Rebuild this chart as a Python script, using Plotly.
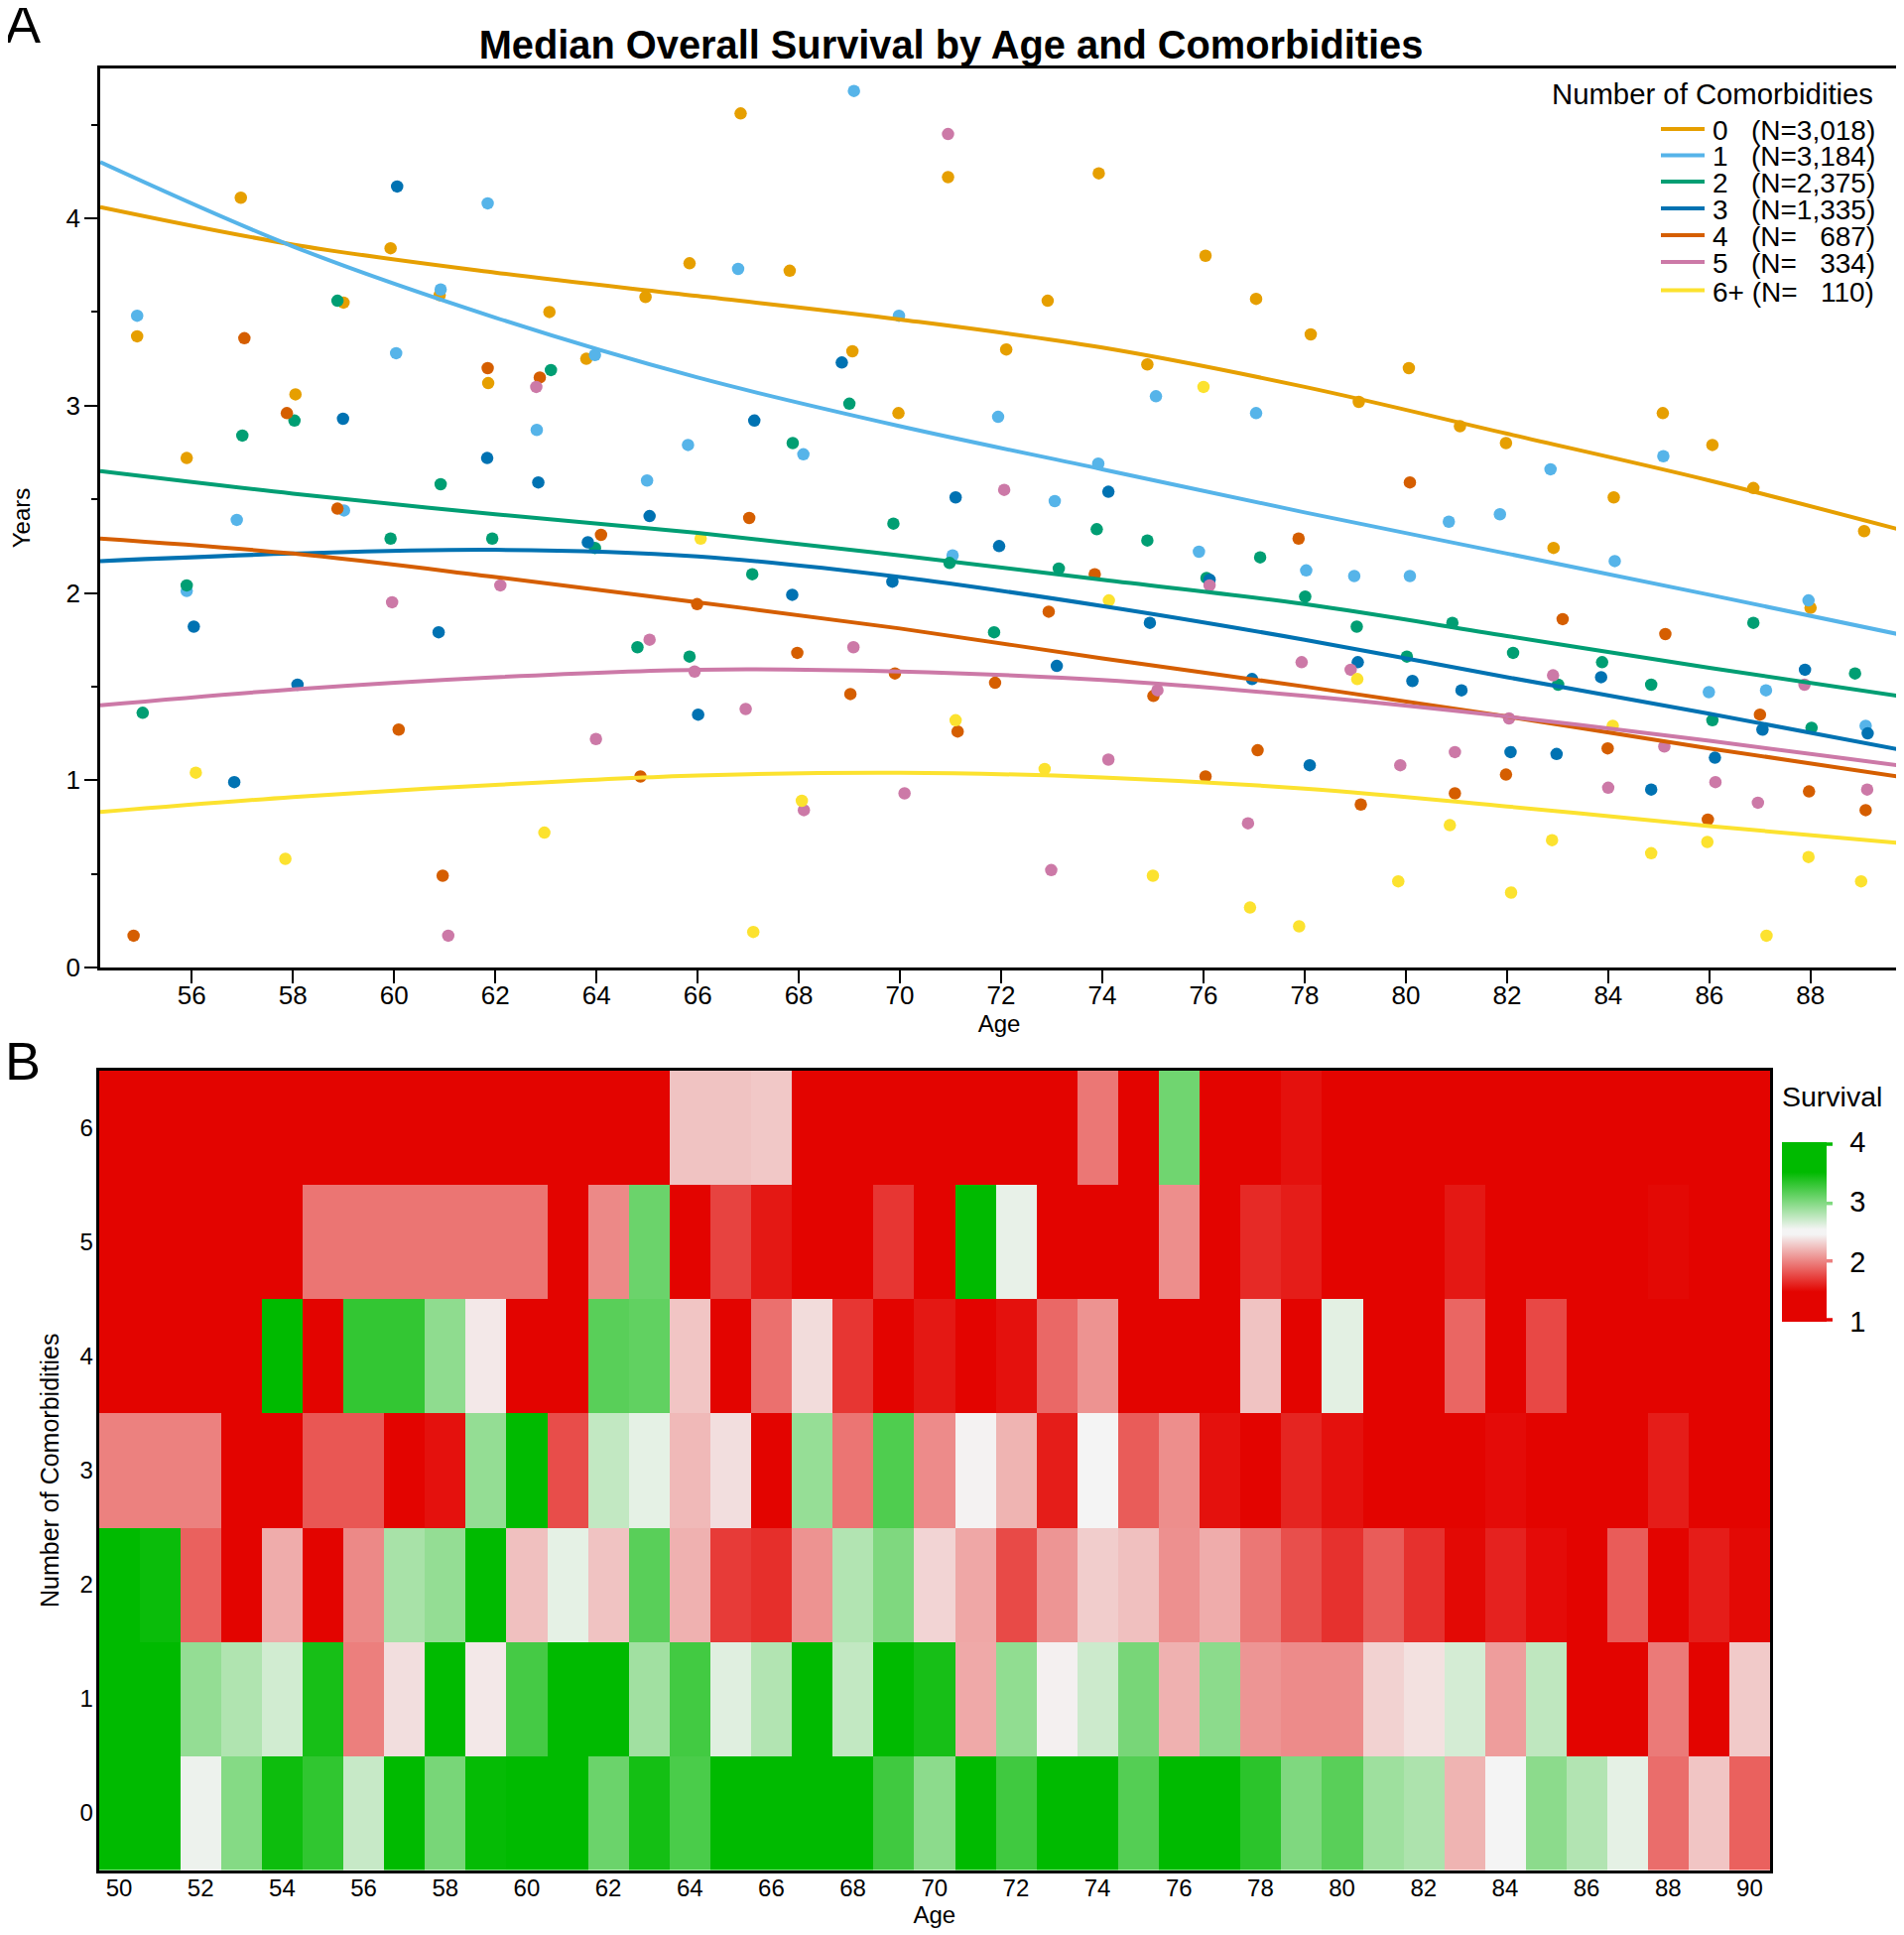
import plotly.graph_objects as go

W, H = 1919, 1950
BODY_MARGIN = 8

# ---------- Panel A data ----------
series_colors = ["#E69F00", "#56B4E9", "#009E73", "#0072B2", "#D55E00", "#CC79A7", "#FCE22F"]
legend_labels = ["0   (N=3,018)", "1   (N=3,184)", "2   (N=2,375)", "3   (N=1,335)",
                 "4   (N=   687)", "5   (N=   334)", "6+ (N=   110)"]

age0 = [54.92,55.9,56.97,58.05,59.0,59.93,60.9,61.86,63.07,63.8,64.97,65.84,66.85,67.82,69.06,69.97,70.95,72.1,72.92,73.93,74.89,76.04,77.04,78.12,79.07,80.06,81.07,81.98,82.92,84.11,85.08,86.06,86.87,88.0,89.06]
val0 = [3.37,2.72,4.11,3.06,3.55,3.84,3.59,3.12,3.50,3.25,3.58,3.76,4.56,3.72,3.29,2.96,4.22,3.30,3.56,4.24,3.22,3.80,3.57,3.38,3.02,3.20,2.89,2.80,2.24,2.51,2.96,2.79,2.56,1.92,2.33]
age1 = [54.92,55.9,56.89,59.01,60.04,60.92,61.85,62.82,63.97,65.0,65.81,66.8,68.09,69.09,69.98,71.04,71.94,73.06,73.92,75.06,75.91,77.04,78.03,78.98,80.08,80.85,81.86,82.86,84.13,85.09,85.99,87.12,87.96,89.09]
val1 = [3.48,2.01,2.39,2.44,3.28,3.62,4.08,2.87,3.27,2.60,2.79,3.73,2.74,4.68,3.48,2.20,2.94,2.49,2.69,3.05,2.22,2.96,2.12,2.09,2.09,2.38,2.42,2.66,2.17,2.73,1.47,1.48,1.96,1.29]
age2 = [55.03,55.9,57.0,58.03,58.88,59.93,60.92,61.94,63.1,63.97,64.81,65.84,67.08,67.88,69.0,69.87,70.98,71.86,73.14,73.89,74.89,76.06,77.12,78.01,79.03,80.02,80.92,82.12,83.01,83.88,84.85,86.06,86.87,88.02,88.88]
val2 = [1.36,2.04,2.84,2.92,3.56,2.29,2.58,2.29,3.19,2.24,1.71,1.66,2.10,2.80,3.01,2.37,2.16,1.79,2.13,2.34,2.28,2.08,2.19,1.98,1.82,1.66,1.84,1.68,1.51,1.63,1.51,1.32,1.84,1.28,1.57]
age3 = [56.04,56.84,58.09,58.99,60.06,60.88,61.84,62.85,63.83,65.05,66.01,67.12,67.87,68.85,69.85,71.1,71.96,73.1,74.12,74.94,76.12,76.96,78.1,79.05,80.13,81.1,82.07,82.98,83.86,84.85,86.11,87.05,87.89,89.13]
val3 = [1.82,0.99,1.51,2.93,4.17,1.79,2.72,2.59,2.27,2.41,1.35,2.92,1.99,3.23,2.06,2.51,2.25,1.61,2.54,1.84,2.07,1.54,1.08,1.63,1.53,1.48,1.15,1.14,1.55,0.95,1.12,1.27,1.59,1.25]
age4 = [54.85,57.04,57.88,58.88,60.09,60.96,61.85,62.88,64.09,64.87,65.99,67.02,67.97,69.02,69.9,71.14,71.88,72.94,73.85,75.01,76.04,77.07,77.88,79.11,80.08,80.97,81.98,83.1,83.99,85.13,85.97,87.0,87.97,89.09]
val4 = [0.17,3.36,2.96,2.45,1.27,0.49,3.20,3.15,2.31,1.02,1.94,2.40,1.68,1.46,1.57,1.26,1.52,1.90,2.10,1.45,1.02,1.16,2.29,0.87,2.59,0.93,1.03,1.86,1.17,1.78,0.79,1.35,0.94,0.84]
age5 = [59.96,61.07,62.1,62.81,63.99,65.05,65.94,66.95,68.1,69.08,70.09,70.95,72.06,72.99,74.12,75.09,76.12,76.88,77.94,78.91,79.89,80.97,82.04,82.91,84.0,85.11,86.12,86.96,87.88,89.12]
val5 = [1.95,0.17,2.04,3.10,1.22,1.75,1.58,1.38,0.84,1.71,0.93,4.45,2.55,0.52,1.11,1.48,2.04,0.77,1.63,1.59,1.08,1.15,1.33,1.56,0.96,1.18,0.99,0.88,1.51,0.95]
age6 = [56.08,57.85,62.97,66.06,67.1,68.06,71.1,72.86,74.13,75.0,76.0,76.92,77.89,79.04,79.85,80.87,82.08,82.89,84.09,84.85,85.96,87.13,87.96,89.0]
val6 = [1.04,0.58,0.72,2.29,0.19,0.89,1.32,1.06,1.96,0.49,3.10,0.32,0.22,1.54,0.46,0.76,0.40,0.68,1.29,0.61,0.67,0.17,0.59,0.46]

curve_age = [54.19,58,62,66,70,74,78,82,86,89.73]
curve0 = [4.06,3.86,3.71,3.585,3.46,3.31,3.10,2.85,2.60,2.34]
curve1 = [4.30,3.85,3.47,3.15,2.89,2.66,2.43,2.21,1.99,1.78]
curve2 = [2.65,2.53,2.42,2.32,2.20,2.07,1.94,1.77,1.60,1.45]
curve3 = [2.17,2.21,2.23,2.195,2.085,1.93,1.75,1.55,1.355,1.165]
curve4 = [2.29,2.21,2.085,1.95,1.81,1.65,1.50,1.34,1.17,1.02]
curve5 = [1.40,1.485,1.55,1.59,1.58,1.535,1.45,1.34,1.21,1.08]
curve6 = [0.83,0.91,0.975,1.025,1.04,1.015,0.955,0.86,0.755,0.665]

point_ages = [age0, age1, age2, age3, age4, age5, age6]
point_vals = [val0, val1, val2, val3, val4, val5, val6]
curves = [curve0, curve1, curve2, curve3, curve4, curve5, curve6]

# ---------- Panel B data ----------
heat_ages = list(range(50, 91))
heat_rows = [0, 1, 2, 3, 4, 5, 6]
surv0 = [3.7,3.7,2.57,2.98,3.45,3.31,2.72,3.7,3.03,3.48,3.7,3.7,3.08,3.42,3.21,3.7,3.7,3.7,3.7,3.25,2.95,3.7,3.25,3.7,3.7,3.17,3.7,3.7,3.33,3.0,3.15,2.88,2.82,2.2,2.47,2.95,2.8,2.6,1.92,2.27,1.87]
surv1 = [3.7,3.7,2.92,2.81,2.68,3.41,1.99,2.37,3.7,2.41,3.23,3.7,3.7,2.87,3.24,2.62,2.8,3.7,2.74,3.7,3.41,2.16,2.93,2.44,2.7,3.03,2.19,2.95,2.08,2.04,2.04,2.32,2.38,2.67,2.11,2.75,1.2,1.2,1.97,1.2,2.29]
surv2 = [3.7,3.46,1.87,1.2,2.17,1.2,2.03,2.84,2.92,3.7,2.25,2.6,2.26,3.15,2.19,1.72,1.67,2.07,2.8,3.0,2.33,2.15,1.78,2.08,2.3,2.25,2.06,2.17,1.96,1.8,1.68,1.85,1.68,1.52,1.62,1.53,1.2,1.85,1.2,1.6,1.52]
surv3 = [2.0,2.0,2.0,1.2,1.2,1.83,1.83,1.2,1.55,2.92,3.7,1.79,2.74,2.6,2.22,2.37,1.2,2.91,1.95,3.19,2.04,2.45,2.2,1.6,2.52,1.85,2.05,1.55,1.2,1.63,1.55,1.2,1.2,1.2,1.53,1.2,1.2,1.2,1.6,1.2,1.2]
surv4 = [1.2,1.2,1.2,1.2,3.7,1.2,3.3,3.3,2.94,2.41,1.2,1.2,3.15,3.12,2.27,1.2,1.93,2.36,1.7,1.2,1.58,1.2,1.55,1.9,2.07,1.2,1.2,1.2,2.26,1.2,2.61,1.2,1.2,1.89,1.2,1.77,1.2,1.2,1.2,1.2,1.2]
surv5 = [1.2,1.2,1.2,1.2,1.2,1.95,1.95,1.95,1.95,1.95,1.95,1.2,2.03,3.08,1.2,1.75,1.58,1.2,1.2,1.7,1.2,3.7,2.59,1.2,1.2,1.2,2.05,1.2,1.65,1.6,1.2,1.2,1.2,1.58,1.2,1.2,1.2,1.2,1.52,1.2,1.2]
surv6 = [1.2,1.2,1.2,1.2,1.2,1.2,1.2,1.2,1.2,1.2,1.2,1.2,1.2,1.2,2.26,2.26,2.28,1.2,1.2,1.2,1.2,1.2,1.2,1.2,1.96,1.2,3.06,1.2,1.2,1.55,1.2,1.2,1.2,1.2,1.2,1.2,1.2,1.2,1.2,1.2,1.2]
survival = [surv0, surv1, surv2, surv3, surv4, surv5, surv6]

FONT = "Liberation Sans"
NB = "\u00a0"
FW, FH = W - BODY_MARGIN, H - BODY_MARGIN

def px(x):
    return (x - BODY_MARGIN) / FW

def py(y):
    return 1 - (y - BODY_MARGIN) / FH

fig = go.Figure()

for i, color in enumerate(series_colors):
    fig.add_trace(go.Scatter(x=point_ages[i], y=point_vals[i], mode="markers",
                             marker=dict(color=color, size=12.5, line=dict(width=0)),
                             showlegend=False, xaxis="x", yaxis="y"))
for i, color in enumerate(series_colors):
    fig.add_trace(go.Scatter(x=curve_age, y=curves[i], mode="lines",
                             line=dict(color=color, width=4, shape="spline", smoothing=1),
                             name=legend_labels[i], showlegend=False, xaxis="x", yaxis="y"))

fig.add_trace(go.Heatmap(
    x=heat_ages, y=heat_rows, z=survival, zmin=1, zmax=4, xaxis="x2", yaxis="y2",
    colorscale=[[0, "#E30400"], [0.1667, "#E30400"], [0.4857, "#F4F4F4"], [0.5143, "#F4F4F4"],
                [0.8333, "#00BA00"], [1, "#00BA00"]],
    colorbar=dict(
        x=px(1796), xanchor="left", y=py(1150.7), yanchor="top",
        lenmode="pixels", len=181, thicknessmode="pixels", thickness=45,
        outlinewidth=0, tickvals=[1, 2, 3, 4], ticks="outside", ticklen=18,
        tickcolor="rgba(0,0,0,0)", tickfont=dict(family=FONT, size=29, color="black"),
        xpad=0, ypad=0,
    ),
))

axis_common = dict(showgrid=False, zeroline=False, showline=True, linecolor="black",
                   linewidth=2.5, mirror=True, tickcolor="black")

annotations = [
    dict(text="A", x=px(3), y=py(24), xanchor="left", yanchor="middle", font=dict(size=54)),
    dict(text="B", x=px(3), y=py(1069), xanchor="left", yanchor="middle", font=dict(size=54)),
    dict(text="Survival", x=px(1794), y=py(1105), xanchor="left", yanchor="middle", font=dict(size=28.5)),
    dict(text="Number of Comorbidities", x=px(1890), y=py(95), xanchor="right", yanchor="middle", font=dict(size=29.3)),
]
shapes = []
legend_y = [130, 156.5, 183, 210, 237, 264, 292.5]
for i, label in enumerate(legend_labels):
    annotations.append(dict(text=label.replace(" ", NB), x=px(1724), y=py(legend_y[i] + 1.5),
                            xanchor="left", yanchor="middle", font=dict(size=28)))
    shapes.append(dict(type="line", xref="paper", yref="paper", x0=px(1674), x1=px(1718),
                       y0=py(legend_y[i]), y1=py(legend_y[i]),
                       line=dict(color=series_colors[i], width=4)))
for c, y in zip(["#00BA00", "#80DA80", "#EC8080", "#E30400"], [1153, 1212.7, 1270.7, 1330]):
    shapes.append(dict(type="line", xref="paper", yref="paper", x0=px(1840), x1=px(1847),
                       y0=py(y), y1=py(y), line=dict(color=c, width=3.5)))

for a in annotations:
    a.update(xref="paper", yref="paper", showarrow=False)
    a["font"].update(family=FONT, color="black")

fig.update_layout(
    width=FW, height=FH, autosize=False,
    margin=dict(l=0, r=0, t=0, b=0, autoexpand=False),
    paper_bgcolor="white", plot_bgcolor="white",
    font=dict(family=FONT, color="black"),
    title=dict(text="<b>Median Overall Survival by Age and Comorbidities</b>",
               x=px(958.5), xanchor="center", y=py(45), yanchor="middle",
               font=dict(family=FONT, size=39.8, color="black")),
    xaxis=dict(domain=[px(101), px(1913)], range=[54.19, 89.73], tickvals=list(range(56, 89, 2)),
               ticks="outside", ticklen=13, tickwidth=2, tickfont=dict(size=26), ticklabelstandoff=-10,
               title=dict(text="Age", font=dict(size=24), standoff=0), anchor="y", **axis_common),
    yaxis=dict(domain=[py(975), py(69)], range=[0, 4.8], tickvals=[0, 1, 2, 3, 4],
               ticks="outside", ticklen=13, tickwidth=2, tickfont=dict(size=26), ticklabelstandoff=-1,
               minor=dict(tickvals=[0.5, 1.5, 2.5, 3.5, 4.5], ticks="outside", ticklen=6, tickwidth=2, tickcolor="black"),
               title=dict(text="Years", font=dict(size=24), standoff=33), anchor="x", **axis_common),
    xaxis2=dict(domain=[px(99.5), px(1784)], range=[49.5, 90.5], tickvals=list(range(50, 91, 2)),
                ticks="", tickfont=dict(size=24), ticklabelstandoff=-5,
                title=dict(text="Age", font=dict(size=24), standoff=6), anchor="y2", **axis_common),
    yaxis2=dict(domain=[py(1884.5), py(1079)], range=[-0.5, 6.5], tickvals=heat_rows,
                ticks="", tickfont=dict(size=24), ticklabelstandoff=-2,
                title=dict(text="Number of Comorbidities", font=dict(size=25), standoff=14), anchor="x2", **axis_common),
    annotations=annotations, shapes=shapes,
)

fig.write_html("out.html")
